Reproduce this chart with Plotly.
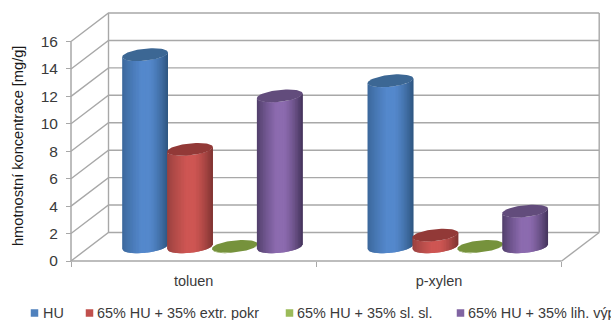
import numpy as np
import plotly.graph_objects as go

categories = ["toluen", "p-xylen"]
series_names = ["HU", "65% HU + 35% extr. pokr", "65% HU + 35% sl. sl.", "65% HU + 35% lih. výp"]
axis_title = "hmotnostní koncentrace [mg/g]"
hu = [14.0, 12.1]
extr_pokr = [7.1, 0.85]
sl_sl = [0.03, 0.03]
lih_vyp = [11.0, 2.6]
y_ticks = [0, 2, 4, 6, 8, 10, 12, 14, 16]

values = [hu, extr_pokr, sl_sl, lih_vyp]
legend_colors = ["#4F81BD", "#C0504D", "#9BBB59", "#8064A2"]
# left edge, centre, right edge, cap
shades = [
    ("#3A6699", "#5488CC", "#2E5580", "#3C6794"),
    ("#96403E", "#CE5653", "#7E3331", "#923937"),
    ("#7A9545", "#9FC05C", "#66803A", "#76923C"),
    ("#4E3C68", "#8C6BAF", "#43335A", "#624C7C"),
]

W, H = 611, 320
LEFT, RIGHT, TOP, BOTTOM = 71, 49.3, 41.5, 59
GRID = "#A8A8A8"
TEXT = "#3A3A3A"

x_unit = (W - LEFT - RIGHT) / 2          # pixels per category
y_unit = (H - TOP - BOTTOM) / 16         # pixels per axis unit
DEPTH_X = 37.5 / x_unit
DEPTH_Y = 28.5 / y_unit
RADIUS = 22.9 / x_unit
ELL_B = 6.0 / y_unit
ELL_K = 2.3 / y_unit
SPACING = 44.9 / x_unit


def rgb(h):
    return np.array([int(h[i:i + 2], 16) for i in (1, 3, 5)], float)


def mix(a, b, f):
    c = rgb(a) * (1 - f) + rgb(b) * f
    return "rgb(%d,%d,%d)" % tuple(c.round())


def shade(left, mid, right, s):
    if s < 0.5:
        return mix(left, mid, min(1, (s / 0.42) ** 0.8))
    return mix(mid, right, max(0, (s - 0.58) / 0.42) ** 1.4)


def line(fig, xs, ys, color=GRID, width=1.4):
    fig.add_trace(go.Scatter(x=xs, y=ys, mode="lines", hoverinfo="skip",
                             showlegend=False, line=dict(color=color, width=width)))


def poly(fig, xs, ys, color):
    fig.add_trace(go.Scatter(x=xs, y=ys, mode="lines", fill="toself",
                             fillcolor=color, hoverinfo="skip", showlegend=False,
                             line=dict(color=color, width=0)))


def front_arc(c):
    return ELL_K * c - ELL_B * np.sqrt(1 - c ** 2)


def cylinder(fig, cx, value, colors):
    base = DEPTH_Y / 2
    left, mid, right, cap = colors
    n = 30
    edges = np.linspace(-1, 1, n + 1)
    for i in range(n):
        # each strip reaches under the next one so no seams show between them
        c = edges[i:min(i + 3, n + 1)]
        px = cx + RADIUS * c
        low = base + front_arc(c)
        xs = np.concatenate([px, px[::-1], px[:1]])
        ys = np.concatenate([low, (low + value)[::-1], low[:1]])
        poly(fig, xs, ys, shade(left, mid, right, (i + 0.5) / n))
    t = np.linspace(0, 2 * np.pi, 73)
    poly(fig, cx + RADIUS * np.cos(t),
         base + value + ELL_K * np.cos(t) + ELL_B * np.sin(t), cap)


fig = go.Figure()

# Front axis lines
line(fig, [0, 0, 2], [16, 0, 0], width=1.5)

# Back wall, side wall and floor of the 3D box
for v in y_ticks:
    line(fig, [0, DEPTH_X, 2 + DEPTH_X], [v, v + DEPTH_Y, v + DEPTH_Y])
line(fig, [DEPTH_X, DEPTH_X], [DEPTH_Y, 16 + DEPTH_Y])
line(fig, [2 + DEPTH_X, 2 + DEPTH_X], [DEPTH_Y, 16 + DEPTH_Y])
line(fig, [2, 2 + DEPTH_X], [0, DEPTH_Y])

# Cylinders, drawn left to right so later ones overlap earlier ones
for ci in range(len(categories)):
    for si, vals in enumerate(values):
        centre = ci + 0.5 + DEPTH_X / 2 + (si - 1.5) * SPACING
        cylinder(fig, centre, vals[ci], shades[si])

# Legend row along the bottom edge
legend_px = [(31, 41), (86, 95), (286, 295), (457, 466)]
legend_row = (H - BOTTOM - 313) / y_unit
annotations = []
for (sq, tx), name, col in zip(legend_px, series_names, legend_colors):
    fig.add_trace(go.Scatter(x=[(sq + 3.5 - LEFT) / x_unit], y=[legend_row],
                             mode="markers", hoverinfo="skip", showlegend=False,
                             marker=dict(symbol="square", size=7.5, color=col)))
    annotations.append(dict(x=(tx - LEFT) / x_unit, y=legend_row, xref="x", yref="y",
                            text=name, showarrow=False, xanchor="left", yanchor="middle",
                            align="left", font=dict(size=14.4, color=TEXT)))

# Value axis title, centred on the text's own position beside the ticks
annotations.append(dict(x=(18 - LEFT) / x_unit, y=(H - BOTTOM - 146) / y_unit, xref="x", yref="y",
                        text=axis_title, showarrow=False, textangle=-90,
                        xanchor="center", yanchor="middle",
                        font=dict(size=14.6, color="#1A1A1A")))

fig.update_layout(
    width=W, height=H, autosize=False,
    margin=dict(l=0, r=0, t=0, b=0, pad=0),
    paper_bgcolor="white", plot_bgcolor="white",
    font=dict(family="Liberation Sans, Arial, sans-serif", color=TEXT),
    annotations=annotations,
    # The axes span the canvas; their ticks sit on the front edge of the box
    xaxis=dict(range=[-LEFT / x_unit, (W - LEFT) / x_unit], anchor="free", position=BOTTOM / H,
               tickmode="array", tickvals=[0.5, 1.5], ticktext=categories,
               showgrid=False, zeroline=False, showline=False,
               ticks="outside", ticklen=7, tickcolor="rgba(0,0,0,0)",
               tickfont=dict(size=14.5, color=TEXT),
               minor=dict(tickmode="array", tickvals=[0, 1, 2], ticks="outside", ticklen=5,
                          tickcolor=GRID, tickwidth=1.3)),
    yaxis=dict(range=[-BOTTOM / y_unit, 16 + TOP / y_unit], anchor="free", position=LEFT / W,
               tickmode="array", tickvals=y_ticks,
               showgrid=False, zeroline=False, showline=False,
               ticks="outside", ticklen=5, tickcolor=GRID, tickwidth=1.3, ticklabelstandoff=5,
               tickfont=dict(size=15.5, color=TEXT)),
)

fig.write_html("out.html")
